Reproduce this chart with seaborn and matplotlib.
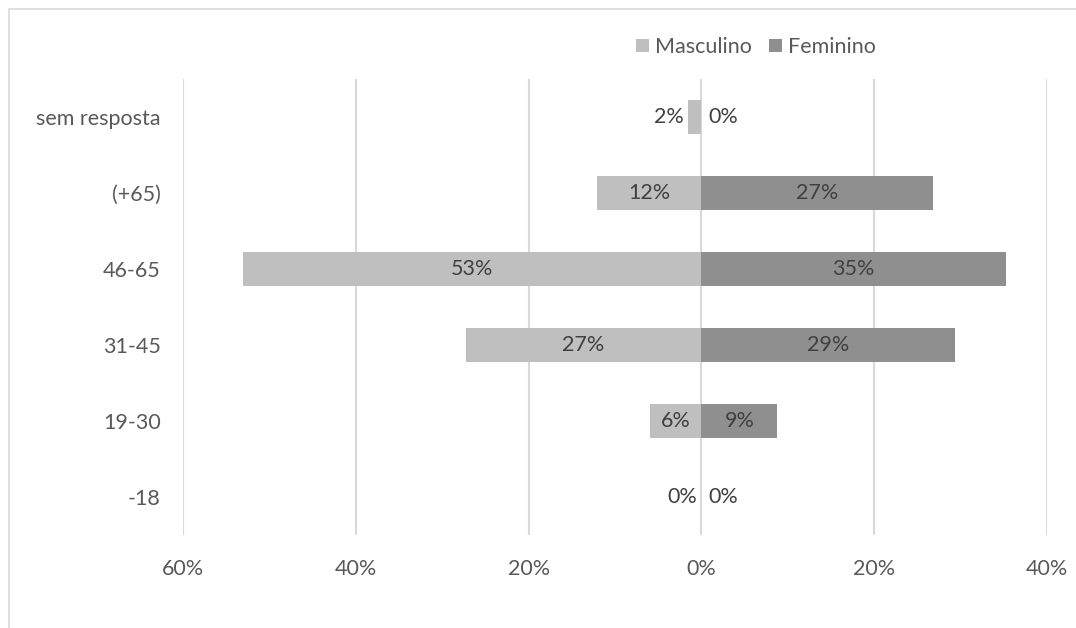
import matplotlib
matplotlib.use("Agg")
import matplotlib.pyplot as plt
import seaborn as sns
import pandas as pd
from matplotlib.patches import Rectangle, Patch

categories = ["sem resposta", "(+65)", "46-65", "31-45", "19-30", "-18"]
masculino = [1.6, 12.1, 53.0, 27.3, 6.0, 0.0]
feminino = [0.0, 26.8, 35.2, 29.3, 8.8, 0.0]
series_names = ["Masculino", "Feminino"]
xticks = [-60, -40, -20, 0, 20, 40]

male_c = "#BFBFBF"
female_c = "#8F8F8F"
tick_c = "#595959"
label_c = "#404040"
grid_c = "#D9D9D9"
fs = 15.5

sns.set_theme(style="white")
plt.rcParams["font.family"] = ["Lato", "DejaVu Sans"]

df = pd.DataFrame({
    "cat": categories * 2,
    "val": [-v for v in masculino] + feminino,
    "sex": [series_names[0]] * len(categories) + [series_names[1]] * len(categories),
})

fig = plt.figure(figsize=(10.76, 6.28), dpi=100)
ax = fig.add_axes([183 / 1076, 1 - 535 / 628, (1047 - 183) / 1076, (535 - 79) / 628])

sns.barplot(data=df, x="val", y="cat", hue="sex", order=categories,
            hue_order=series_names, palette=[male_c, female_c],
            dodge=False, width=0.45, orient="h", ax=ax, legend=False,
            linewidth=0)

ax.set_xlim(-60, 40)
ax.set_ylim(len(categories) - 0.5, -0.5)
ax.set_xticks(xticks)
ax.set_xticklabels([f"{abs(t)}%" for t in xticks], color=tick_c, fontsize=fs)
ax.tick_params(axis="x", length=0, pad=17)
ax.tick_params(axis="y", length=0, pad=16)
for lab in ax.get_yticklabels():
    lab.set_color(tick_c)
    lab.set_fontsize(fs)
ax.set_xlabel("")
ax.set_ylabel("")
for s in ax.spines.values():
    s.set_visible(False)
ax.set_axisbelow(True)
ax.grid(axis="x", color=grid_c, linewidth=1.5)
ax.grid(axis="y", visible=False)

# data labels
for i, (m, f) in enumerate(zip(masculino, feminino)):
    if m >= 4:
        ax.text(-m / 2, i, f"{round(m)}%", ha="center", va="center", color=label_c, fontsize=fs)
    else:
        ax.text(-m - 0.5, i, f"{round(m)}%", ha="right", va="center", color=label_c, fontsize=fs)
    if f >= 4:
        ax.text(f / 2, i, f"{round(f)}%", ha="center", va="center", color=label_c, fontsize=fs)
    else:
        ax.text(f + 0.8, i, f"{round(f)}%", ha="left", va="center", color=label_c, fontsize=fs)

handles = [Patch(facecolor=male_c, edgecolor="none"), Patch(facecolor=female_c, edgecolor="none")]
leg = fig.legend(handles, series_names, loc="center", bbox_to_anchor=(756 / 1076, 1 - 47 / 628),
                 ncol=2, frameon=False, handlelength=0.6, handleheight=0.6,
                 handletextpad=0.3, columnspacing=0.8, fontsize=fs)
for t in leg.get_texts():
    t.set_color(tick_c)

# outer chart border
fig.patches.append(Rectangle((9 / 1076, -0.1), 1.2, 1 - 9 / 628 + 0.1, transform=fig.transFigure,
                             fill=False, edgecolor="#D9D9D9", linewidth=1.2))

fig.savefig("out.png", dpi=100)
